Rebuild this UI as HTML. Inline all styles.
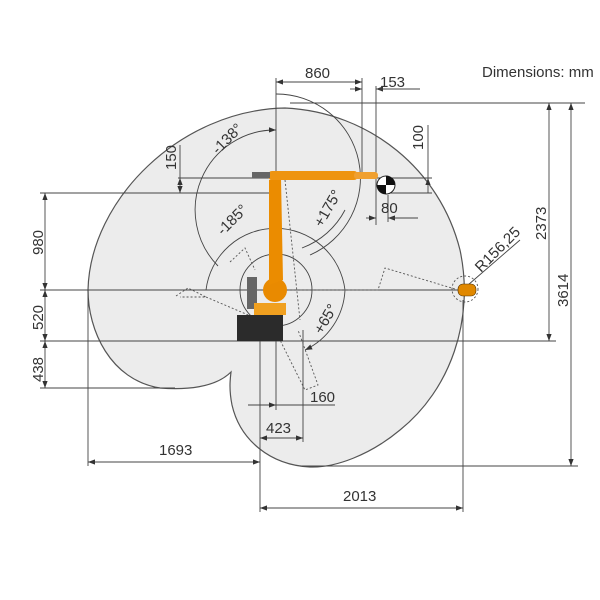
<!DOCTYPE html>
<html><head><meta charset="utf-8"><style>
html,body{margin:0;padding:0;background:#fff;}
svg{display:block;}
text{font-family:"Liberation Sans",sans-serif;fill:#333;font-size:15px;}
</style></head><body>
<svg width="600" height="600" viewBox="0 0 600 600" xmlns="http://www.w3.org/2000/svg">
<defs><marker id="a" markerWidth="8" markerHeight="6" refX="8" refY="3" orient="auto-start-reverse"><path d="M0,0 L8,3 L0,6 z" fill="#333"/></marker></defs>
<path d="M285,108 C370,112 440,170 460,250 C475,320 450,390 400,430 C370,455 335,468 310,467 C270,465 240,440 232,405 C229,390 230,380 231,372 C215,388 185,390 160,388 C110,380 88,330 88,290 C90,200 180,110 285,108 Z" fill="#ececec" stroke="#555" stroke-width="1.2"/>
<g stroke="#444" stroke-width="0.9" fill="none">
<line x1="276" y1="78" x2="276" y2="290"/>
<line x1="362" y1="78" x2="362" y2="178"/>
<line x1="376" y1="86" x2="376" y2="225"/>
<line x1="290" y1="103" x2="585" y2="103"/>
<line x1="178" y1="178" x2="432" y2="178"/>
<line x1="40" y1="193" x2="272" y2="193"/>
<line x1="40" y1="290" x2="465" y2="290"/>
<line x1="40" y1="341" x2="556" y2="341"/>
<line x1="40" y1="388" x2="175" y2="388"/>
<line x1="88" y1="290" x2="88" y2="466"/>
<line x1="260" y1="341" x2="260" y2="512"/>
<line x1="463" y1="300" x2="463" y2="512"/>
<line x1="303" y1="330" x2="303" y2="442"/>
<line x1="276" y1="330" x2="276" y2="410"/>
<line x1="300" y1="466" x2="578" y2="466"/>
<line x1="276" y1="82" x2="362" y2="82" marker-start="url(#a)" marker-end="url(#a)"/>
<line x1="350" y1="89" x2="362" y2="89" marker-end="url(#a)"/>
<line x1="388" y1="89" x2="376" y2="89" marker-end="url(#a)"/>
<line x1="376" y1="89" x2="420" y2="89"/>
<line x1="549" y1="103" x2="549" y2="341" marker-start="url(#a)" marker-end="url(#a)"/>
<line x1="571" y1="103" x2="571" y2="466" marker-start="url(#a)" marker-end="url(#a)"/>
<line x1="45" y1="193" x2="45" y2="290" marker-start="url(#a)" marker-end="url(#a)"/>
<line x1="45" y1="290" x2="45" y2="341" marker-start="url(#a)" marker-end="url(#a)"/>
<line x1="45" y1="341" x2="45" y2="388" marker-start="url(#a)" marker-end="url(#a)"/>
<line x1="180" y1="145" x2="180" y2="178"/>
<line x1="180" y1="178" x2="180" y2="193" marker-start="url(#a)" marker-end="url(#a)"/>
<line x1="428" y1="125" x2="428" y2="178"/>
<line x1="428" y1="178" x2="428" y2="193" marker-start="url(#a)"/>
<line x1="388" y1="193" x2="432" y2="193"/>
<line x1="388" y1="195" x2="388" y2="222"/>
<line x1="366" y1="218" x2="376" y2="218" marker-end="url(#a)"/>
<line x1="400" y1="218" x2="388" y2="218" marker-end="url(#a)"/>
<line x1="388" y1="218" x2="418" y2="218"/>
<line x1="88" y1="462" x2="260" y2="462" marker-start="url(#a)" marker-end="url(#a)"/>
<line x1="260" y1="508" x2="463" y2="508" marker-start="url(#a)" marker-end="url(#a)"/>
<line x1="260" y1="438" x2="303" y2="438" marker-start="url(#a)" marker-end="url(#a)"/>
<line x1="248" y1="405" x2="276" y2="405" marker-end="url(#a)"/>
<line x1="335" y1="405" x2="276" y2="405"/>
<line x1="468" y1="285" x2="520" y2="240"/>
<path d="M276,94 A84,84 0 0 1 310,255"/>
<path d="M276,130 A80,80 0 0 0 218,266" marker-start="url(#a)"/>
<path d="M302,248 A80,80 0 0 0 345,210"/>
<circle cx="276" cy="290" r="36"/>
<path d="M206,290 A70,70 0 0 1 345,290" />
<path d="M345,290 A70,70 0 0 1 305,350" marker-end="url(#a)"/>
</g>
<g stroke="#555" stroke-width="0.9" fill="none" stroke-dasharray="2,2">
<polyline points="276,290 378,290 385,268 455,289"/>
<polyline points="176,296 188,288 206,297 180,297"/>
<polyline points="206,297 260,320 280,340 305,390 318,385 298,330"/>
<polyline points="230,262 245,248 255,270"/>
<line x1="285" y1="180" x2="300" y2="320"/>
<circle cx="465" cy="289" r="13"/>
</g>
<rect x="237" y="315" width="46" height="26" fill="#2b2b2b"/>
<rect x="247" y="277" width="10" height="32" fill="#666"/>
<circle cx="275" cy="290" r="12" fill="#e98a00"/>
<rect x="254" y="303" width="32" height="12" fill="#f0a020"/>
<path d="M269,180 L281,178 L283,280 L269,285 Z" fill="#eb8c00"/>
<rect x="268" y="171" width="90" height="9" rx="4" fill="#ee9410"/>
<rect x="354" y="172" width="24" height="7" rx="3" fill="#f0a030"/>
<rect x="252" y="172" width="18" height="6" fill="#666"/>
<circle cx="386" cy="185" r="9" fill="#fff" stroke="#222"/>
<path d="M386,176 A9,9 0 0 1 395,185 L386,185 Z M386,194 A9,9 0 0 1 377,185 L386,185 Z" fill="#111"/>
<rect x="458" y="284" width="18" height="12" rx="5" fill="#e08800" stroke="#553300" stroke-width="0.6"/>
<text x="482" y="77" font-size="13">Dimensions: mm</text>
<text x="305" y="78">860</text>
<text x="380" y="87">153</text>
<text x="381" y="213">80</text>
<text x="159" y="455">1693</text>
<text x="343" y="501">2013</text>
<text x="266" y="433">423</text>
<text x="310" y="402">160</text>
<text transform="translate(176,170) rotate(-90)">150</text>
<text transform="translate(423,150) rotate(-90)">100</text>
<text transform="translate(43,255) rotate(-90)">980</text>
<text transform="translate(43,330) rotate(-90)">520</text>
<text transform="translate(43,382) rotate(-90)">438</text>
<text transform="translate(546,240) rotate(-90)">2373</text>
<text transform="translate(568,307) rotate(-90)">3614</text>
<text transform="translate(218,155) rotate(-45)">-138°</text>
<text transform="translate(322,228) rotate(-60)">+175°</text>
<text transform="translate(223,236) rotate(-45)">-185°</text>
<text transform="translate(322,335) rotate(-60)">+65°</text>
<text transform="translate(481,273) rotate(-45)">R156,25</text>
</svg>
</body></html>
